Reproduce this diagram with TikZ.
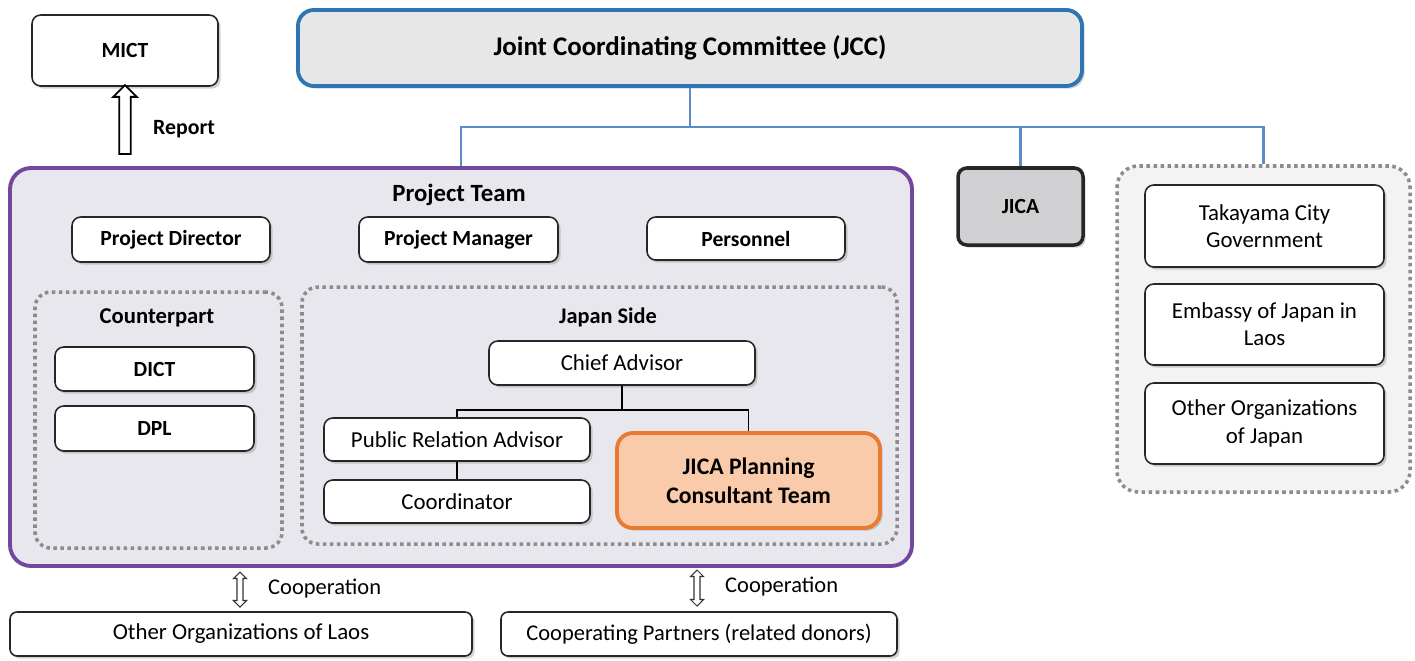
\documentclass[tikz,border=0pt]{standalone}
\usepackage{fontspec}
\setmainfont{Carlito}
\usetikzlibrary{positioning}
\usetikzlibrary{calc}
\usetikzlibrary{shadows}
\usetikzlibrary{shapes.arrows}

\definecolor{jccblue}{HTML}{2E75B6}
\definecolor{busblue}{HTML}{5B8CC8}
\definecolor{jccgray}{HTML}{E7E7E7}
\definecolor{teampurple}{HTML}{7346A0}
\definecolor{teamfill}{HTML}{E9E7EE}
\definecolor{dotgray}{HTML}{8C8C8C}
\definecolor{jicagray}{HTML}{D0D0D2}
\definecolor{jpnfill}{HTML}{F3F3F3}
\definecolor{consorange}{HTML}{E97A32}
\definecolor{consfill}{HTML}{F9CBAA}

\newcommand{\px}{0.02cm}

\tikzset{
  box/.style={draw=black!85, line width=0.9pt, rounded corners=5pt, fill=white, align=center,
    drop shadow={shadow xshift=1.5pt, shadow yshift=-1.5pt, opacity=0.35}, inner sep=2pt},
  boldbox/.style={box, font=\fontsize{12.3}{14}\selectfont\bfseries},
  plainbox/.style={box, font=\fontsize{13}{15.5}\selectfont},
  dotbox/.style={draw=dotgray, line width=2pt, dash pattern=on 2pt off 2pt, rounded corners=9pt},
  title/.style={font=\fontsize{12.9}{15}\selectfont\bfseries},
  busline/.style={draw=busblue, line width=1.6pt},
  orgline/.style={draw=black, line width=0.8pt},
  reparrow/.style={single arrow, draw, fill=white, line width=1pt, rotate=90, inner sep=2.8pt,
    single arrow head extend=3.4pt},
  cooparrow/.style={double arrow, draw=black!80, fill=white, line width=0.6pt, rotate=90,
    inner sep=1.4pt, double arrow head extend=2pt},
  coop/.style={font=\fontsize{12.8}{15}\selectfont},
}

\begin{document}
\begin{tikzpicture}[x=0.02cm, y=-0.02cm]
\useasboundingbox (0,0) rectangle (1415,660);

% top level
\node[boldbox, minimum width=186*\px, minimum height=71*\px] (mict) at (125,50.5) {MICT};
\node[box, draw=jccblue, line width=2.2pt, fill=jccgray, rounded corners=9pt,
  font=\fontsize{15.3}{17}\selectfont\bfseries,
  minimum width=784*\px, minimum height=76*\px] (jcc) at (690,48) {Joint Coordinating Committee (JCC)};

% project team
\node[draw=teampurple, line width=2.2pt, fill=teamfill, rounded corners=12pt,
  minimum width=902*\px, minimum height=398*\px] (team) at (461,367) {};
\node[title, font=\fontsize{14.1}{16}\selectfont\bfseries] (teamt) at (459,195) {Project Team};
\node[boldbox, minimum width=198*\px, minimum height=45*\px] (pdir) at (171,239.5) {Project Director};
\node[boldbox, minimum width=199*\px, minimum height=45*\px] (pman) at (458.5,239.5) {Project Manager};
\node[boldbox, minimum width=198*\px, minimum height=43*\px] (pers) at (746,238.5) {Personnel};

% counterpart
\node[dotbox, minimum width=247*\px, minimum height=256*\px] (cpart) at (158.5,420) {};
\node[title] (cpartt) at (157,318) {Counterpart};
\node[boldbox, minimum width=199*\px, minimum height=44*\px] (dict) at (154.5,369) {DICT};
\node[boldbox, minimum width=199*\px, minimum height=45*\px] (dpl) at (154.5,428.5) {DPL};

% japan side
\node[dotbox, minimum width=595*\px, minimum height=257*\px] (jside) at (599.5,415.5) {};
\node[title, font=\fontsize{12.7}{15}\selectfont\bfseries] (jsidet) at (608,317) {Japan Side};
\node[plainbox, minimum width=266*\px, minimum height=44*\px] (chief) at (622,363) {Chief Advisor};
\node[plainbox, minimum width=266*\px, minimum height=43*\px] (pra) at (457,439.5) {Public Relation Advisor};
\node[plainbox, minimum width=266*\px, minimum height=43*\px] (coord) at (457,501.5) {Coordinator};
\node[box, draw=consorange, fill=consfill, line width=2.2pt, rounded corners=9pt,
  font=\fontsize{13.5}{16.5}\selectfont\bfseries,
  minimum width=263*\px, minimum height=95*\px] (jpct) at (748.5,480.5) {JICA Planning\\Consultant Team};

% jica and japan
\node[box, fill=jicagray, line width=2pt, font=\fontsize{12.3}{14}\selectfont\bfseries,
  minimum width=125*\px, minimum height=77*\px] (jica) at (1020.5,206.5) {JICA};
\node[dotbox, fill=jpnfill, rounded corners=12pt, minimum width=293*\px, minimum height=326*\px] (jpn) at (1263.5,329) {};
\node[plainbox, minimum width=239*\px, minimum height=82*\px] (taka) at (1264.5,226) {Takayama City\\Government};
\node[plainbox, minimum width=239*\px, minimum height=81*\px] (emb) at (1264.5,324.5) {Embassy of Japan in\\Laos};
\node[plainbox, minimum width=239*\px, minimum height=81*\px] (ojp) at (1264.5,423.5) {Other Organizations\\of Japan};

% bottom
\node[plainbox, rounded corners=4pt, minimum width=462*\px, minimum height=44*\px] (olaos) at (241,634) {Other Organizations of Laos};
\node[plainbox, font=\fontsize{12.8}{15}\selectfont, rounded corners=4pt,
  minimum width=396*\px, minimum height=44*\px] (donor) at (699,634) {Cooperating Partners (related donors)};

% arrows
\node[reparrow, minimum height=69*\px] (rep) at (125,122.5) {};
\node[title, font=\fontsize{12.4}{14}\selectfont\bfseries, anchor=west] (rept) at (147,129) {Report};
\node[cooparrow, minimum height=35*\px] (coop1) at (240,589.5) {};
\node[coop, anchor=west] (coop1t) at (262,589) {Cooperation};
\node[cooparrow, minimum height=36*\px] (coop2) at (697,588) {};
\node[coop, anchor=west] (coop2t) at (719,587) {Cooperation};

% connectors
\coordinate (bus) at ($(jcc.south)+(0,39)$);
\draw[busline] (jcc.south) -- (bus);
\draw[busline] (team.north) |- (bus) -| (jpn.north);
\draw[busline] (jica.north) -- (jica.north |- bus);

\coordinate (jbus) at ($(chief.south)+(0,24)$);
\draw[orgline, line width=1.4pt] (chief.south) -- (jbus);
\draw[orgline] (pra.north) |- (jbus) -| (jpct.north);
\draw[orgline] (pra.south) -- (coord.north);
\end{tikzpicture}
\end{document}
